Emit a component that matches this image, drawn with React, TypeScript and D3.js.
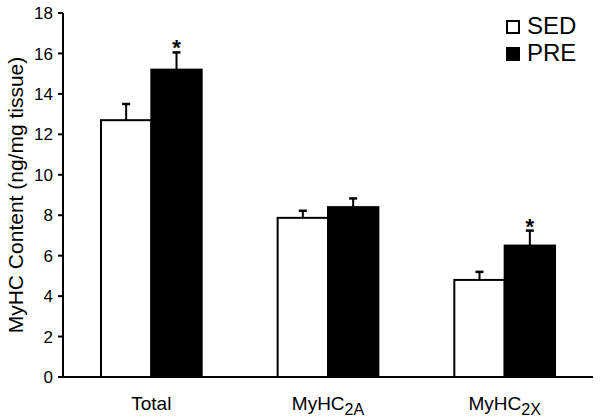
import React from "react";
import * as d3 from "d3";

const categories = ["Total", "MyHC2A", "MyHC2X"];
const groups = ["SED", "PRE"];
const sedValues = [12.7, 7.87, 4.8];
const sedErrors = [0.8, 0.35, 0.4];
const preValues = [15.2, 8.4, 6.5];
const preErrors = [0.85, 0.43, 0.74];
const significant = [false, true, false, false, false, true]; // per bar, SED/PRE per category
const yTicks = [0, 2, 4, 6, 8, 10, 12, 14, 16, 18];

function CategoryLabel({ name }: { name: string }) {
  if (name === "Total") return <>{name}</>;
  return (
    <>
      MyHC
      <tspan fontSize={16} dy={5}>
        {name.slice(4)}
      </tspan>
    </>
  );
}

export default function App() {
  const width = 600;
  const height = 419;
  const margin = { top: 13, right: 7, bottom: 42, left: 63 };
  const innerW = width - margin.left - margin.right;
  const innerH = height - margin.top - margin.bottom;
  const font = "Arial, 'Liberation Sans', sans-serif";

  const x0 = d3.scaleBand().domain(categories).range([0, innerW]).paddingInner(0.43).paddingOuter(0.215);
  const x1 = d3.scaleBand().domain(groups).range([0, x0.bandwidth()]);
  const y = d3.scaleLinear().domain([0, 18]).range([innerH, 0]);

  const bars = categories.flatMap((c, i) => [
    { cat: c, group: "SED", value: sedValues[i], err: sedErrors[i], sig: significant[i * 2] },
    { cat: c, group: "PRE", value: preValues[i], err: preErrors[i], sig: significant[i * 2 + 1] },
  ]);

  return (
    <svg
      width={width}
      height={height}
      style={{ position: "absolute", left: 0, top: 0, background: "#fff" }}
      fontFamily={font}
    >
      <g transform={`translate(${margin.left},${margin.top})`}>
        {bars.map((b, i) => {
          const bx = (x0(b.cat) as number) + (x1(b.group) as number);
          const bw = x1.bandwidth();
          const cx = bx + bw / 2;
          return (
            <g key={i}>
              <line x1={cx} x2={cx} y1={y(b.value)} y2={y(b.value + b.err)} stroke="#000" strokeWidth={2} />
              <line x1={cx - 4} x2={cx + 4} y1={y(b.value + b.err)} y2={y(b.value + b.err)} stroke="#000" strokeWidth={2.5} />
              <rect
                x={bx}
                y={y(b.value)}
                width={bw}
                height={innerH - y(b.value)}
                fill={b.group === "SED" ? "#fff" : "#000"}
                stroke="#000"
                strokeWidth={2}
              />
              {b.sig && (
                <text x={cx} y={y(b.value + b.err) + 3} textAnchor="middle" fontSize={22} fontWeight="bold">
                  *
                </text>
              )}
            </g>
          );
        })}

        {/* y axis */}
        <line x1={0} x2={0} y1={0} y2={innerH} stroke="#000" strokeWidth={2} />
        {yTicks.map((t) => (
          <g key={t} transform={`translate(0,${y(t)})`}>
            <line x1={-5} x2={0} stroke="#000" strokeWidth={2} />
            <text x={-10} dy="0.36em" textAnchor="end" fontSize={17}>
              {t}
            </text>
          </g>
        ))}
        <text
          transform={`translate(-40,${innerH / 2}) rotate(-90)`}
          textAnchor="middle"
          fontSize={21}
        >
          MyHC Content (ng/mg tissue)
        </text>

        {/* x axis */}
        <line x1={0} x2={innerW} y1={innerH} y2={innerH} stroke="#000" strokeWidth={2} />
        {categories.map((c) => (
          <text
            key={c}
            x={(x0(c) as number) + x0.bandwidth() / 2}
            y={innerH + 33}
            textAnchor="middle"
            fontSize={19}
          >
            <CategoryLabel name={c} />
          </text>
        ))}
      </g>

      {/* legend */}
      {groups.map((g, i) => (
        <g key={g} transform={`translate(507,${21 + i * 27})`}>
          <rect x={0} y={0} width={12} height={12} fill={g === "SED" ? "#fff" : "#000"} stroke="#000" strokeWidth={2} />
          <text x={20} y={12.5} fontSize={24}>
            {g}
          </text>
        </g>
      ))}
    </svg>
  );
}
